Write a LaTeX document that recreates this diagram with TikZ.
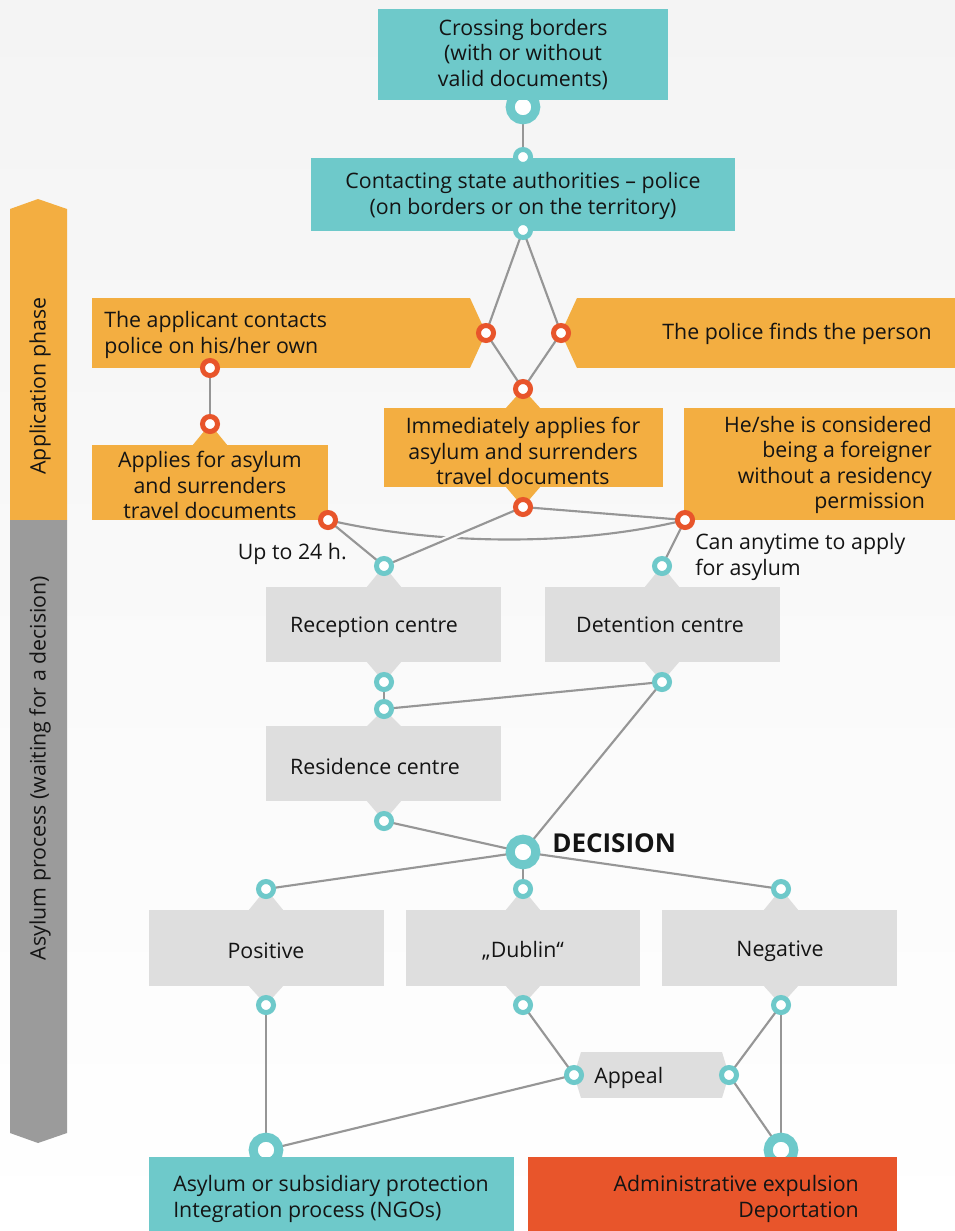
\documentclass[tikz,border=0pt]{standalone}
\usepackage{fontspec}
\setmainfont{Open Sans}
\usetikzlibrary{calc}
\pgfdeclarelayer{bg}\pgfdeclarelayer{mid}\pgfdeclarelayer{fg}
\pgfsetlayers{bg,mid,main,fg}
\definecolor{teal1}{RGB}{110,201,202}
\definecolor{orng}{RGB}{243,174,65}
\definecolor{redo}{RGB}{232,85,43}
\definecolor{gboxc}{RGB}{222,222,222}
\definecolor{lnc}{RGB}{150,150,150}
\definecolor{gbar}{RGB}{155,155,155}
\definecolor{bgc}{RGB}{244,244,244}
\definecolor{txc}{RGB}{20,20,20}
\newcommand\mybox[6]{\node[boxst, fill=#6, minimum width={(#4-#2)*0.75pt}, minimum height={(#5-#3)*0.75pt}] (#1) at ({(#2+#4)/2},{(#3+#5)/2}) {};}
\newcommand\mytab[4]{\fill[#1] ({#2-18},#4) -- (#2,#3) -- ({#2+18},#4) -- cycle;}
\begin{document}
\begin{tikzpicture}[x=0.75pt,y=-0.75pt, font=\fontsize{16}{19}\selectfont,
 boxst/.style={rectangle, draw=none, inner sep=0pt, outer sep=0pt},
 txt/.style={text=txc, inner sep=0pt, align=center},
 sc/.style={circle, draw=teal1, fill=white, line width=3.75pt, minimum size=11.25pt, inner sep=0pt},
 rc/.style={sc, draw=redo},
 bc/.style={circle, draw=teal1, fill=white, line width=6.75pt, minimum size=19.25pt, inner sep=0pt},
 lnk/.style={draw=lnc, line width=1.6pt}]
\useasboundingbox (0,0) rectangle (955,1231);
\begin{pgfonlayer}{bg}
\fill[top color=bgc, bottom color=white] (0,0) rectangle (955,1231);
% side bars
\fill[orng] (10,209) -- (38,199) -- (67,209) -- (67,520) -- (10,520) -- cycle;
\fill[gbar] (10,520) -- (67,520) -- (67,1133) -- (38,1143) -- (10,1133) -- cycle;
% boxes
\mybox{bcont}{311}{158}{735}{231}{teal1}
\mybox{bapp}{92}{298}{470}{368}{orng}
\fill[orng] (470,298) -- (486,333) -- (470,368) -- cycle;
\mybox{bpol}{577}{298}{955}{368}{orng}
\fill[orng] (577,298) -- (561,333) -- (577,368) -- cycle;
\mybox{bappl}{92}{445}{328}{520}{orng}
\mytab{orng}{210}{424}{446}
\mybox{bimm}{384}{408}{663}{487}{orng}
\mytab{orng}{523}{389}{409}
\mytab{orng}{523}{507}{486}
\mybox{bhs}{684}{408}{955}{520}{orng}
\mybox{brec}{266}{587}{501}{662}{gboxc}
\mytab{gboxc}{384}{566}{588}
\mytab{gboxc}{384}{682}{661}
\mybox{bdet}{545}{587}{780}{662}{gboxc}
\mytab{gboxc}{662}{566}{588}
\mytab{gboxc}{662}{682}{661}
\mybox{bres}{266}{726}{501}{801}{gboxc}
\mytab{gboxc}{384}{709}{727}
\mytab{gboxc}{384}{821}{800}
\mybox{bpos}{149}{910}{384}{986}{gboxc}
\mytab{gboxc}{266}{889}{911}
\mytab{gboxc}{266}{1005}{985}
\mybox{bdub}{406}{910}{640}{986}{gboxc}
\mytab{gboxc}{523}{889}{911}
\mytab{gboxc}{523}{1005}{985}
\mybox{bneg}{662}{910}{897}{986}{gboxc}
\mytab{gboxc}{781}{889}{911}
\mytab{gboxc}{781}{1005}{985}
\mybox{bapl}{581}{1052}{722}{1098}{gboxc}
\fill[gboxc] (581,1052) -- (574,1075) -- (581,1098) -- cycle;
\fill[gboxc] (722,1052) -- (729,1075) -- (722,1098) -- cycle;
\end{pgfonlayer}
% top and bottom boxes over their big circles
\begin{pgfonlayer}{fg}
\mybox{bcross}{378}{9}{668}{100}{teal1}
\mybox{basy}{149}{1157}{514}{1231}{teal1}
\mybox{bexp}{528}{1157}{897}{1231}{redo}
\node[txt] (tcross) at (523,54.5) {Crossing borders\\(with or without\\valid documents)};
\node[txt, anchor=west, align=left] (tasy) at (173,1199) {Asylum or subsidiary protection\\Integration process (NGOs)};
\node[txt, anchor=east, align=right] (texp) at (859,1199) {Administrative expulsion\\Deportation};
\end{pgfonlayer}
% circles
\node[bc] (ccross) at (523,107) {};
\node[sc] (cc1) at (523,157) {};
\node[sc] (cc2) at (523,230) {};
\node[rc] (rapp) at (486,333) {};
\node[rc] (rpol) at (561,333) {};
\node[rc] (rim1) at (523,389) {};
\node[rc] (rim2) at (523,507) {};
\node[rc] (rap1) at (210,368) {};
\node[rc] (rap2) at (210,424) {};
\node[rc] (rap3) at (328,520) {};
\node[rc] (rhs) at (685,520) {};
\node[sc] (trec1) at (384,566) {};
\node[sc] (tdet1) at (662,566) {};
\node[sc] (trec2) at (384,682) {};
\node[sc] (tdet2) at (662,682) {};
\node[sc] (tres1) at (384,709) {};
\node[sc] (tres2) at (384,821) {};
\node[bc] (cdec) at (523,852) {};
\node[sc] (tpos1) at (266,889) {};
\node[sc] (tdub1) at (523,889) {};
\node[sc] (tneg1) at (781,889) {};
\node[sc] (tpos2) at (266,1005) {};
\node[sc] (tdub2) at (523,1005) {};
\node[sc] (tneg2) at (781,1005) {};
\node[sc] (tapl) at (574,1075) {};
\node[sc] (tapr) at (729,1075) {};
\node[bc] (casy) at (266,1150) {};
\node[bc] (cexp) at (781,1150) {};
% connectors
\begin{pgfonlayer}{mid}
\draw[lnk] (ccross.center) -- (cc1.center);
\draw[lnk] (cc2.center) -- (rapp.center);
\draw[lnk] (cc2.center) -- (rpol.center);
\draw[lnk] (rapp.center) -- (rim1.center);
\draw[lnk] (rpol.center) -- (rim1.center);
\draw[lnk] (rap1.center) -- (rap2.center);
\draw[lnk] (rap3.center) -- (trec1.center);
\draw[lnk] (rap3.center) .. controls (440,546) and (580,546) .. (rhs.center);
\draw[draw=bgc!45!white, line width=5pt] ($(rim2.center)!0.42!(trec1.center)$) -- ($(rim2.center)!0.58!(trec1.center)$);
\draw[lnk] (rim2.center) -- (trec1.center);
\draw[lnk] (rim2.center) -- (rhs.center);
\draw[lnk] (rhs.center) -- (tdet1.center);
\draw[lnk] (trec2.center) -- (tres1.center);
\draw[lnk] (tres1.center) -- (tdet2.center);
\draw[lnk] (tdet2.center) -- (cdec.center);
\draw[lnk] (tres2.center) -- (cdec.center);
\draw[lnk] (cdec.center) -- (tpos1.center);
\draw[lnk] (cdec.center) -- (tdub1.center);
\draw[lnk] (cdec.center) -- (tneg1.center);
\draw[lnk] (tpos2.center) -- (casy.center);
\draw[lnk] (tdub2.center) -- (tapl.center);
\draw[lnk] (tapl.center) -- (casy.center);
\draw[lnk] (tneg2.center) -- (tapr.center);
\draw[lnk] (tneg2.center) -- (cexp.center);
\draw[lnk] (tapr.center) -- (cexp.center);
\end{pgfonlayer}
% texts
\node[txt] (tcont) at (523,196) {Contacting state authorities – police\\(on borders or on the territory)};
\node[txt, anchor=west, align=left] (tapp) at (104,335) {The applicant contacts\\police on his/her own};
\node[txt, anchor=east] (tpol) at (932,334) {The police finds the person};
\node[txt] (tappl) at (210,485) {Applies for asylum\\and surrenders\\travel documents};
\node[txt] (timm) at (523,451) {Immediately applies for\\asylum and surrenders\\travel documents};
\node[txt, anchor=east, align=right] (ths) at (932,465) {He/she is considered\\being a foreigner\\without a residency\\permission\hspace*{5pt}};
\node[txt, anchor=east] (tup) at (347,554) {Up to 24 h.};
\node[txt, anchor=west, align=left] (tcan) at (695,557) {Can anytime to apply\\for asylum};
\node[txt] (trect) at (374,627) {Reception centre};
\node[txt] (tdett) at (660,625) {Detention centre};
\node[txt] (trest) at (375,766) {Residence centre};
\node[txt, anchor=west, font=\fontsize{19.5}{23}\selectfont\bfseries] (tdec) at (552,843) {DECISION};
\node[txt] (tpos) at (266,951) {Positive};
\node[txt] (tdub) at (523,951) {„Dublin“};
\node[txt] (tneg) at (780,951) {Negative};
\node[txt, anchor=west] (tapt) at (594,1078) {Appeal};
\node[txt, rotate=90] (tphase1) at (40,386) {Application phase};
\node[txt, rotate=90] (tphase2) at (40,768) {Asylum process (waiting for a decision)};
\end{tikzpicture}
\end{document}
